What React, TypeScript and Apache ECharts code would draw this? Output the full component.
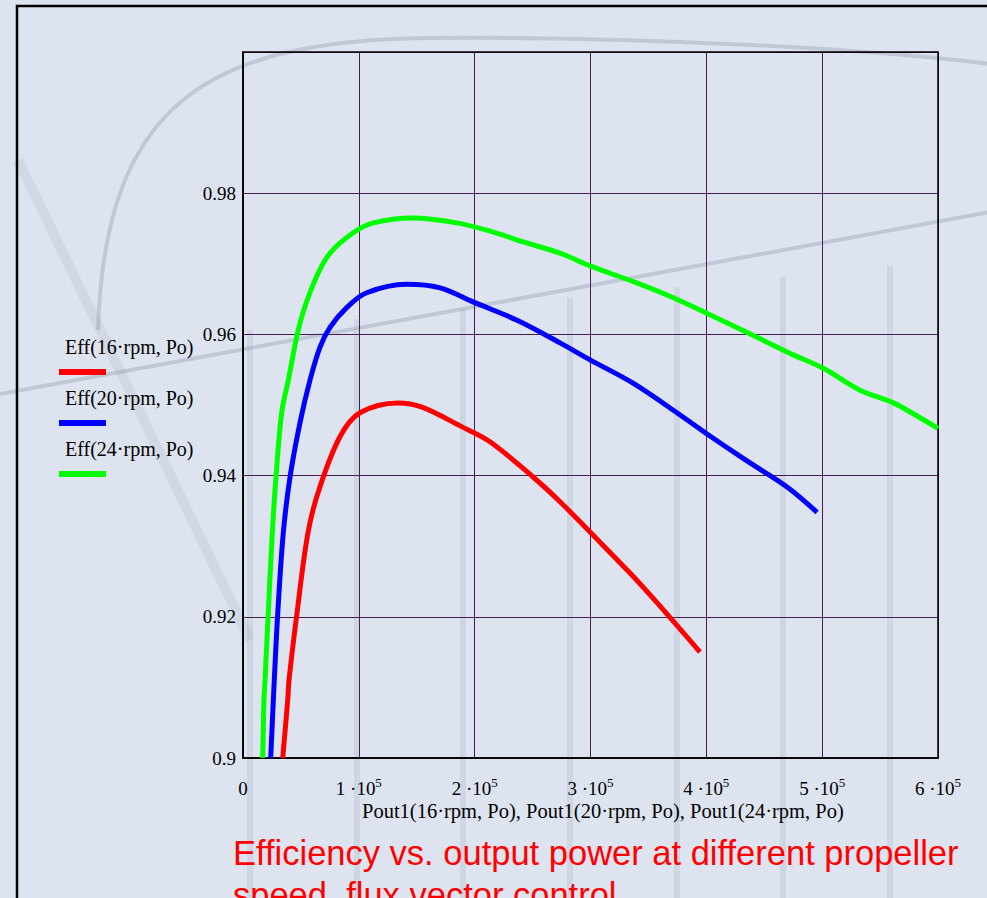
import React, { useEffect, useRef } from "react";
import * as echarts from "echarts";

// ---- data ----
const xTickValues = [0, 100000, 200000, 300000, 400000, 500000, 600000];
const yTickValues = [0.9, 0.92, 0.94, 0.96, 0.98];

const rpm16Power = [34300, 38600, 39700, 46600, 56100, 65600, 83700, 101000, 133800, 154500, 189100, 213200, 250400, 273700, 299600, 334100, 357400, 394500];
const rpm16Eff = [0.9, 0.9082, 0.911, 0.9205, 0.9319, 0.938, 0.9455, 0.9489, 0.9503, 0.9497, 0.9469, 0.9448, 0.9398, 0.9363, 0.932, 0.9262, 0.922, 0.915];

const rpm20Power = [23900, 26200, 27000, 30000, 34800, 40600, 49200, 57800, 66500, 75100, 89500, 106800, 141300, 170100, 198600, 236600, 273700, 299600, 336700, 371200, 400600, 437700, 469700, 495600];
const rpm20Eff = [0.9, 0.9082, 0.911, 0.9205, 0.9319, 0.9398, 0.9475, 0.9535, 0.9582, 0.961, 0.9638, 0.9659, 0.9671, 0.9666, 0.9646, 0.962, 0.9588, 0.9564, 0.9531, 0.9493, 0.9459, 0.9418, 0.9384, 0.9348];

const rpm24Power = [17000, 18100, 19000, 21800, 25300, 28500, 33400, 39100, 49200, 62200, 75100, 95200, 112500, 147000, 184500, 216100, 242000, 273700, 299600, 339900, 371500, 400300, 434900, 475100, 501000, 532700, 561400, 584500, 600000];
const rpm24Eff = [0.9, 0.9082, 0.911, 0.9205, 0.9319, 0.9398, 0.9489, 0.9535, 0.9616, 0.9677, 0.9715, 0.9744, 0.9758, 0.9765, 0.9758, 0.9745, 0.9731, 0.9715, 0.9697, 0.9673, 0.9652, 0.963, 0.9603, 0.9571, 0.9552, 0.9521, 0.9503, 0.9482, 0.9467];

const seriesNames = ["Eff(16·rpm, Po)", "Eff(20·rpm, Po)", "Eff(24·rpm, Po)"];
const seriesColors = ["#ff0000", "#0000ff", "#00ff00"];
const xAxisTitle = "Pout1(16·rpm, Po), Pout1(20·rpm, Po), Pout1(24·rpm, Po)";
const captionLines = ["Efficiency vs. output power at different propeller", "speed, flux vector control"];

const zip = (xs: number[], ys: number[]) => xs.map((x, i) => [x, ys[i]]);

const SERIF = "'Liberation Serif', 'Times New Roman', serif";
const SANS = "'Liberation Sans', Arial, sans-serif";

const GRID = { left: 243, top: 52, right: 49, bottom: 140 };
const W = 987;
const H = 898;

export default function App() {
  const ref = useRef<HTMLDivElement>(null);

  useEffect(() => {
    if (!ref.current) return;
    const chart = echarts.init(ref.current, undefined, { renderer: "svg" });

    const plotW = W - GRID.left - GRID.right;
    const plotH = H - GRID.top - GRID.bottom;
    const deco = "rgba(120,130,150,0.28)";
    const bars = [250, 357, 463, 570, 677, 783, 890];

    const legendItems: any[] = [];
    seriesNames.forEach((name, i) => {
      legendItems.push({
        type: "text",
        left: 65,
        top: 337 + i * 51,
        z: 5,
        style: { text: name, font: `20px ${SERIF}`, fill: "#000" },
      });
      legendItems.push({
        type: "rect",
        shape: { x: 59, y: 369 + i * 51, width: 47, height: 6 },
        z: 5,
        style: { fill: seriesColors[i] },
      });
    });

    const series = [
      zip(rpm16Power, rpm16Eff),
      zip(rpm20Power, rpm20Eff),
      zip(rpm24Power, rpm24Eff),
    ].map((data, i) => ({
      type: "line",
      name: seriesNames[i],
      data,
      showSymbol: false,
      symbol: "none",
      smooth: 0.35,
      clip: true,
      lineStyle: { color: seriesColors[i], width: 5 },
      z: 3,
    }));

    chart.setOption({
      animation: false,
      backgroundColor: "#dde4f0",
      grid: { ...GRID, containLabel: false },
      xAxis: {
        type: "value",
        min: 0,
        max: 600000,
        interval: 100000,
        axisLine: { show: true, lineStyle: { color: "#000", width: 1.5 } },
        axisTick: { show: false },
        splitLine: { show: true, lineStyle: { color: "#4b1c4f", width: 1 } },
        axisLabel: {
          margin: 18,
          color: "#000",
          fontFamily: SERIF,
          fontSize: 19,
          formatter: (v: number) => (v === 0 ? "{b|0}" : `{b|${Math.round(v / 100000)} ·10}{s|5}`),
          rich: {
            b: { fontFamily: SERIF, fontSize: 19, color: "#000", lineHeight: 24, verticalAlign: "middle" },
            s: { fontFamily: SERIF, fontSize: 13, color: "#000", lineHeight: 12, verticalAlign: "top" },
          },
        },
      },
      yAxis: {
        type: "value",
        min: 0.9,
        max: 1.0,
        interval: 0.02,
        axisLine: { show: true, lineStyle: { color: "#000", width: 1.5 } },
        axisTick: { show: false },
        splitLine: { show: true, lineStyle: { color: "#4b1c4f", width: 1 } },
        axisLabel: {
          margin: 7,
          color: "#000",
          fontFamily: SERIF,
          fontSize: 19,
          formatter: (v: number) => {
            const hit = yTickValues.find((t) => Math.abs(t - v) < 1e-6);
            return hit === undefined ? "" : String(hit);
          },
        },
      },
      graphic: [
        // faint background picture strokes
        {
          type: "bezierCurve",
          z: -10,
          shape: { x1: 98, y1: 330, cpx1: 105, cpy1: 110, cpx2: 200, cpy2: 40, x2: 430, y2: 38 },
          style: { stroke: deco, lineWidth: 4, fill: null },
        },
        {
          type: "bezierCurve",
          z: -10,
          shape: { x1: 430, y1: 38, cpx1: 650, cpy1: 36, cpx2: 880, cpy2: 50, x2: 990, y2: 64 },
          style: { stroke: deco, lineWidth: 4, fill: null },
        },
        {
          type: "line",
          z: -10,
          shape: { x1: 0, y1: 394, x2: 990, y2: 212 },
          style: { stroke: deco, lineWidth: 4 },
        },
        {
          type: "line",
          z: -10,
          shape: { x1: 18, y1: 160, x2: 250, y2: 640 },
          style: { stroke: "rgba(120,130,150,0.12)", lineWidth: 10 },
        },
        ...bars.map((x) => ({
          type: "rect",
          z: -10,
          shape: { x: x - 3, y: 330 - (x - 250) * 0.1, width: 6, height: 700 },
          style: { fill: "rgba(120,130,150,0.14)" },
        })),
        // outer frame
        {
          type: "rect",
          z: 10,
          shape: { x: 17, y: 6, width: 1100, height: 1100 },
          style: { stroke: "#000", lineWidth: 2.5, fill: null },
        },
        // plot frame
        {
          type: "rect",
          z: 1,
          shape: { x: GRID.left, y: GRID.top, width: plotW, height: plotH },
          style: { stroke: "#000", lineWidth: 1.5, fill: null },
        },
        // x axis title
        {
          type: "text",
          left: 362,
          top: 800,
          z: 5,
          style: { text: xAxisTitle, font: `20.5px ${SERIF}`, fill: "#000" },
        },
        ...legendItems,
        // caption
        {
          type: "text",
          left: 233,
          top: 832,
          z: 5,
          style: {
            text: captionLines.join("\n"),
            font: `34.5px ${SANS}`,
            fill: "#ff0000",
            lineHeight: 42,
          },
        },
      ],
      series,
    });

    return () => chart.dispose();
  }, []);

  return (
    <div
      ref={ref}
      style={{ position: "fixed", left: 0, top: 0, width: W, height: H }}
    />
  );
}
